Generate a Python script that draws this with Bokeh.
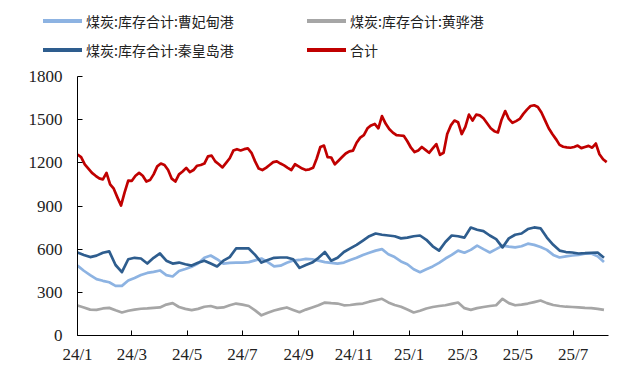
import pandas as pd
from bokeh.plotting import figure
from bokeh.layouts import column
from bokeh.models import Div, FixedTicker, Range1d, ColumnDataSource
from bokeh.embed import file_html
from bokeh.resources import INLINE

# port series: weekly observations
dates_weekly = pd.date_range("2024-01-01", periods=84, freq="7D")

caofeidian = [486, 450, 420, 392, 380, 370, 345, 345, 382, 400,
              420, 435, 442, 452, 420, 410, 448, 462, 478, 500,
              540, 556, 530, 500, 505, 507, 507, 510, 522, 535,
              510, 480, 485, 505, 521, 525, 532, 530, 520, 510,
              505, 500, 507, 525, 540, 560, 575, 590, 600, 565,
              545, 515, 495, 460, 440, 460, 480, 505, 535, 560,
              590, 575, 595, 625, 600, 577, 600, 625, 618, 612,
              620, 638, 630, 615, 595, 560, 542, 550, 556, 560,
              568, 570, 550, 510]

huanghua = [208, 195, 180, 178, 188, 192, 175, 160, 172, 180,
            186, 188, 192, 195, 215, 225, 198, 185, 176, 185,
            200, 205, 192, 195, 210, 222, 215, 205, 175, 140,
            158, 174, 185, 195, 178, 162, 180, 195, 210, 229,
            225, 222, 210, 212, 218, 222, 235, 245, 255, 230,
            212, 200, 180, 160, 172, 188, 198, 205, 210, 220,
            229, 190, 178, 190, 198, 205, 210, 255, 225, 210,
            215, 222, 232, 243, 225, 212, 205, 200, 198, 195,
            192, 190, 185, 178]

qinhuangdao = [577, 560, 545, 555, 575, 585, 490, 440, 530, 540,
               535, 500, 540, 570, 520, 500, 507, 495, 486, 505,
               520, 500, 480, 520, 545, 605, 605, 605, 560, 507,
               525, 540, 542, 542, 530, 470, 490, 507, 540, 580,
               520, 540, 580, 605, 630, 660, 690, 709, 700, 695,
               690, 675, 680, 690, 695, 665, 620, 590, 650, 695,
               690, 680, 750, 735, 725, 695, 670, 612, 675, 700,
               709, 740, 751, 745, 681, 630, 590, 580, 577, 570,
               572, 575, 577, 540]

# total: observations every 4 days
dates_total = pd.date_range("2024-01-01", periods=147, freq="4D")

total = [1258, 1240, 1190, 1160, 1130, 1110, 1092, 1085, 1130, 1050,
         1020, 960, 903, 994, 1077, 1075, 1110, 1130, 1110, 1070,
         1080, 1120, 1175, 1195, 1185, 1150, 1090, 1070, 1120, 1140,
         1165, 1135, 1150, 1180, 1185, 1195, 1245, 1250, 1210, 1190,
         1168, 1200, 1232, 1285, 1295, 1286, 1295, 1300, 1270, 1210,
         1160, 1150, 1165, 1185, 1205, 1210, 1195, 1182, 1165, 1150,
         1190, 1175, 1160, 1150, 1155, 1165, 1230, 1310, 1320, 1240,
         1237, 1190, 1215, 1240, 1265, 1280, 1285, 1340, 1375, 1392,
         1440, 1460, 1470, 1440, 1525, 1473, 1435, 1410, 1392, 1390,
         1388, 1350, 1305, 1275, 1286, 1310, 1290, 1270, 1300, 1330,
         1255, 1270, 1400, 1460, 1494, 1482, 1400, 1450, 1535, 1494,
         1535, 1530, 1510, 1475, 1440, 1420, 1411, 1500, 1560, 1505,
         1478, 1490, 1505, 1540, 1570, 1595, 1600, 1588, 1550, 1495,
         1440, 1400, 1365, 1325, 1312, 1308, 1305, 1310, 1320, 1302,
         1310, 1318, 1305, 1334, 1260, 1225, 1205]

series_names = ["煤炭:库存合计:曹妃甸港", "煤炭:库存合计:黄骅港",
                "煤炭:库存合计:秦皇岛港", "合计"]
series_colors = ["#8DB3E2", "#A6A6A6", "#2E5D8E", "#C00000"]

tick_dates = ["2024-01-01", "2024-03-01", "2024-05-01", "2024-07-01", "2024-09-01",
              "2024-11-01", "2025-01-01", "2025-03-01", "2025-05-01", "2025-07-01"]
tick_labels = ["24/1", "24/3", "24/5", "24/7", "24/9",
               "24/11", "25/1", "25/3", "25/5", "25/7"]
y_ticks = [0, 300, 600, 900, 1200, 1500, 1800]

# ---- legend strip (2 columns x 2 rows) ----
col_left = [43, 307]
row_center = [21, 50]
parts = ['<div style="position:relative;width:618px;height:68px;'
         'font-family:\'Noto Sans CJK SC\';font-size:14px;color:#222222;">']
for i, (name, colr) in enumerate(zip(series_names, series_colors)):
    cx = col_left[i % 2]
    cy = row_center[i // 2]
    parts.append(f'<div style="position:absolute;left:{cx}px;top:{cy - 2}px;'
                 f'width:39px;height:4px;background:{colr};"></div>')
    parts.append(f'<div style="position:absolute;left:{cx + 43}px;top:{cy - 10}px;'
                 f'height:20px;line-height:20px;white-space:nowrap;">{name}</div>')
parts.append('</div>')
legend_div = Div(text="".join(parts), width=618, height=68, margin=0)

# ---- main chart ----
p = figure(width=618, height=307, x_axis_type="datetime",
           output_backend="svg", toolbar_location=None,
           x_range=Range1d(pd.Timestamp("2024-01-01"), pd.Timestamp("2025-08-09")),
           y_range=Range1d(0, 1800),
           min_border_left=77, min_border_right=10,
           min_border_top=8, min_border_bottom=40, margin=0)
p.outline_line_color = None
p.xgrid.visible = False
p.ygrid.visible = False

series = [(dates_weekly, caofeidian), (dates_weekly, huanghua),
          (dates_weekly, qinhuangdao), (dates_total, total)]
for (xs, vals), col in zip(series, series_colors):
    src = ColumnDataSource(dict(x=xs, y=vals))
    p.line("x", "y", source=src, line_color=col, line_width=2.7, line_join="round")

tick_ms = [int(pd.Timestamp(d).value // 10**6) for d in tick_dates]
p.xaxis.ticker = FixedTicker(ticks=tick_ms)
p.xaxis.major_label_overrides = {t: l for t, l in zip(tick_ms, tick_labels)}
p.yaxis.ticker = FixedTicker(ticks=y_ticks)

for ax in (p.xaxis[0], p.yaxis[0]):
    ax.axis_line_color = "black"
    ax.axis_line_width = 1
    ax.major_tick_line_color = "black"
    ax.major_tick_in = 5
    ax.major_tick_out = 0
    ax.minor_tick_line_color = None
    ax.major_label_text_font = "Liberation Serif"
    ax.major_label_text_font_size = "17px"
    ax.major_label_text_color = "#222222"
p.yaxis.major_label_standoff = 15
p.xaxis.major_label_standoff = 9

open("out.html", "w").write(file_html(column(legend_div, p, spacing=0, margin=0), INLINE))
